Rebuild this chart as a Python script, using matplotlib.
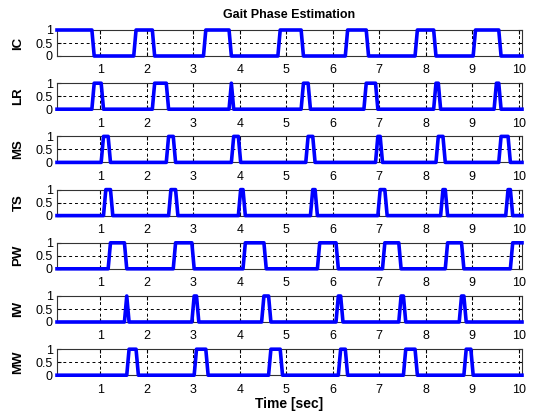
import numpy as np
import matplotlib.pyplot as plt

plt.rcParams["font.family"] = ["Liberation Sans", "DejaVu Sans"]

# phase names (top to bottom)
phases = ["IC", "LR", "MS", "TS", "PW", "IW", "MW"]

# on/off times (sec) of each phase
ic_events = [(0.0, 0.83), (1.77, 2.12), (3.25, 3.81), (4.84, 5.35), (6.28, 6.74), (7.78, 8.21), (9.03, 9.57)]
lr_events = [(0.83, 1.05), (2.16, 2.45), (3.78, 3.86), (5.36, 5.47), (6.68, 6.95), (8.22, 8.30), (9.52, 9.60)]
ms_events = [(1.04, 1.18), (2.45, 2.57), (3.86, 4.00), (5.45, 5.58), (6.93, 7.05), (8.27, 8.38), (9.61, 9.77)]
ts_events = [(1.12, 1.22), (2.52, 2.62), (3.98, 4.10), (5.54, 5.66), (7.00, 7.12), (8.36, 8.44), (9.74, 9.84)]
pw_events = [(1.20, 1.55), (2.62, 2.99), (4.08, 4.56), (5.68, 6.07), (7.08, 7.46), (8.47, 8.80), (9.83, 10.2)]
iw_events = [(1.53, 1.61), (2.98, 3.08), (4.52, 4.64), (6.10, 6.20), (7.46, 7.53), (8.76, 8.85)]
mw_events = [(1.60, 1.79), (3.03, 3.29), (4.63, 4.87), (6.17, 6.27), (7.54, 7.77), (8.83, 8.99)]

all_events = [ic_events, lr_events, ms_events, ts_events, pw_events, iw_events, mw_events]

t = np.round(np.arange(0.07, 10.08, 0.05), 3)

W, H = 537, 417
fig = plt.figure(figsize=(W / 100, H / 100), dpi=100)

left_px, right_px = 57, 522
top0, pitch, h_px = 30, 53.2, 26

axes = []
for i, (name, events) in enumerate(zip(phases, all_events)):
    top = top0 + pitch * i
    ax = fig.add_axes([left_px / W, 1 - (top + h_px) / H, (right_px - left_px) / W, h_px / H])
    sig = np.zeros_like(t)
    for start, end in events:
        sig[(t >= start) & (t <= end)] = 1
    ax.plot(t, sig, color="#0000ff", lw=2.6, clip_on=False, zorder=3)
    ax.set_xlim(0.07, 10.07)
    ax.set_ylim(0, 1)
    ax.set_xticks(range(1, 11))
    ax.set_yticks([0, 0.5, 1])
    ax.set_yticklabels(["0", "0.5", "1"])
    ax.tick_params(direction="in", top=True, right=True, labelsize=9, length=3)
    ax.tick_params(axis="x", pad=6)
    ax.tick_params(axis="y", pad=3)
    ax.grid(True, linestyle=(0, (3, 3)), color="black", lw=0.7)
    for sp in ax.spines.values():
        sp.set_linewidth(0.8)
        sp.set_color("#333333")
    ax.set_ylabel(name, fontsize=9.5, fontweight="bold", labelpad=8)
    axes.append(ax)

axes[0].set_title("Gait Phase Estimation", fontsize=9, fontweight="bold", pad=9)
axes[-1].set_xlabel("Time [sec]", fontsize=10, fontweight="bold", labelpad=1)

fig.savefig("out.png", dpi=100)
